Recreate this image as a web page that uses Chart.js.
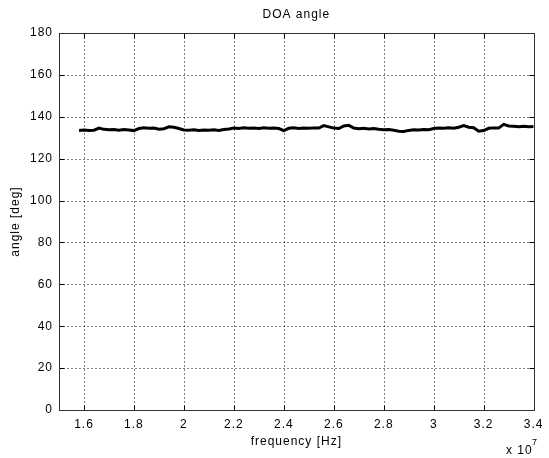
<!DOCTYPE html>
<html lang="en">
<head>
    <meta charset="UTF-8">
    <script src="https://cdn.jsdelivr.net/npm/chart.js"></script>
    <title>DOA angle</title>
    <style>
        body { margin: 0; background: #fff; }
    </style>
</head>
<body>
    <canvas id="doaChart" width="549" height="458"></canvas>

    <script>
        // frequency in units of 1e7 Hz
        const freq = [
            1.58, 1.60, 1.62, 1.64, 1.66, 1.68, 1.70, 1.72, 1.74, 1.76,
            1.78, 1.80, 1.82, 1.84, 1.86, 1.88, 1.90, 1.92, 1.94, 1.96,
            1.98, 2.00, 2.02, 2.04, 2.06, 2.08, 2.10, 2.12, 2.14, 2.16,
            2.18, 2.20, 2.22, 2.24, 2.26, 2.28, 2.30, 2.32, 2.34, 2.36,
            2.38, 2.40, 2.42, 2.44, 2.46, 2.48, 2.50, 2.52, 2.54, 2.56,
            2.58, 2.60, 2.62, 2.64, 2.66, 2.68, 2.70, 2.72, 2.74, 2.76,
            2.78, 2.80, 2.82, 2.84, 2.86, 2.88, 2.90, 2.92, 2.94, 2.96,
            2.98, 3.00, 3.02, 3.04, 3.06, 3.08, 3.10, 3.12, 3.14, 3.16,
            3.18, 3.20, 3.22, 3.24, 3.26, 3.28, 3.30, 3.32, 3.34, 3.36,
            3.38, 3.40
        ];
        // DOA angle in degrees
        const angle = [
            133.5, 133.7, 133.4, 133.6, 134.6, 134.0, 133.8, 133.9, 133.6, 133.9,
            133.7, 133.4, 134.4, 134.8, 134.5, 134.6, 134.1, 134.3, 135.2, 135.0,
            134.4, 133.7, 133.6, 133.8, 133.5, 133.7, 133.6, 133.8, 133.5, 133.9,
            134.2, 134.6, 134.4, 134.7, 134.5, 134.6, 134.4, 134.7, 134.5, 134.6,
            134.4, 133.4, 134.5, 134.7, 134.4, 134.6, 134.5, 134.7, 134.6, 135.8,
            135.2, 134.6, 134.4, 135.6, 135.9, 134.6, 134.3, 134.5, 134.2, 134.4,
            134.0, 133.8, 133.9, 133.6, 133.1, 133.0, 133.5, 133.8, 133.7, 133.9,
            133.8, 134.4, 134.6, 134.5, 134.7, 134.5, 135.0, 135.8, 135.0, 134.8,
            133.1, 133.4, 134.5, 134.7, 134.6, 136.4, 135.6, 135.5, 135.3, 135.5,
            135.2, 135.4
        ];
        const xTicks = [1.6, 1.8, 2.0, 2.2, 2.4, 2.6, 2.8, 3.0, 3.2, 3.4];
        const yTicks = [0, 20, 40, 60, 80, 100, 120, 140, 160, 180];

        const FAMILY = 'Arial, "Liberation Sans", sans-serif';
        const FONT = '12px ' + FAMILY;

        // matlab style box, dotted grid and inward ticks
        const axesBox = {
            id: 'axesBox',
            beforeDraw(chart) {
                chart.ctx.letterSpacing = '1px';
            },
            beforeDatasetsDraw(chart) {
                const { ctx, chartArea: a, scales: { x, y } } = chart;
                const L = Math.round(a.left) + 0.5, R = Math.round(a.right) + 0.5;
                const T = Math.round(a.top) + 0.5, B = Math.round(a.bottom) + 0.5;
                ctx.save();
                ctx.lineWidth = 1;
                ctx.strokeStyle = '#000';
                ctx.setLineDash([1, 3]);
                ctx.beginPath();
                xTicks.forEach(v => {
                    const px = Math.round(x.getPixelForValue(v)) + 0.5;
                    if (px > L + 1 && px < R - 1) { ctx.moveTo(px, B); ctx.lineTo(px, T); }
                });
                yTicks.forEach(v => {
                    const py = Math.round(y.getPixelForValue(v)) + 0.5;
                    if (py > T + 1 && py < B - 1) { ctx.moveTo(L, py); ctx.lineTo(R, py); }
                });
                ctx.stroke();
                ctx.setLineDash([]);
                ctx.beginPath();
                xTicks.forEach(v => {
                    const px = Math.round(x.getPixelForValue(v)) + 0.5;
                    ctx.moveTo(px, B); ctx.lineTo(px, B - 5);
                    ctx.moveTo(px, T); ctx.lineTo(px, T + 5);
                });
                yTicks.forEach(v => {
                    const py = Math.round(y.getPixelForValue(v)) + 0.5;
                    ctx.moveTo(L, py); ctx.lineTo(L + 5, py);
                    ctx.moveTo(R, py); ctx.lineTo(R - 5, py);
                });
                ctx.stroke();
                ctx.strokeStyle = '#333';
                ctx.strokeRect(L, T, R - L, B - T);
                ctx.restore();
            },
            afterDraw(chart) {
                const { ctx, chartArea: a } = chart;
                const cx = (a.left + a.right) / 2;
                ctx.save();
                ctx.letterSpacing = '1px';
                ctx.fillStyle = '#000';
                ctx.font = FONT;
                ctx.textAlign = 'center';
                ctx.textBaseline = 'middle';
                ctx.fillText('DOA angle', cx, 15);
                ctx.fillText('frequency [Hz]', cx, 442);
                ctx.textAlign = 'left';
                ctx.fillText('x 10', 506, 451);
                ctx.font = '9px ' + FAMILY;
                ctx.fillText('7', 532, 443);
                ctx.font = FONT;
                ctx.translate(16, (a.top + a.bottom) / 2);
                ctx.rotate(-Math.PI / 2);
                ctx.textAlign = 'center';
                ctx.fillText('angle [deg]', 0, 0);
                ctx.restore();
            }
        };

        new Chart(document.getElementById('doaChart'), {
            type: 'line',
            data: {
                datasets: [{
                    data: freq.map((f, i) => ({ x: f, y: angle[i] })),
                    borderColor: '#000',
                    borderWidth: 3,
                    pointRadius: 0,
                    tension: 0
                }]
            },
            options: {
                responsive: false,
                animation: false,
                layout: { padding: { top: 33, right: 9, left: 0, bottom: 0 } },
                plugins: { legend: { display: false }, tooltip: { enabled: false } },
                scales: {
                    x: {
                        type: 'linear',
                        min: 1.5,
                        max: 3.4,
                        afterBuildTicks: s => { s.ticks = xTicks.map(v => ({ value: v })); },
                        afterFit: s => { s.height = 48; },
                        grid: { display: false, drawTicks: false },
                        border: { display: false },
                        ticks: {
                            color: '#000',
                            font: { family: FAMILY, size: 12 },
                            padding: 7,
                            maxRotation: 0,
                            autoSkip: false,
                            callback: v => String(+v.toFixed(1))
                        }
                    },
                    y: {
                        min: 0,
                        max: 180,
                        afterBuildTicks: s => { s.ticks = yTicks.map(v => ({ value: v })); },
                        afterFit: s => { s.width = 59; },
                        grid: { display: false, drawTicks: false },
                        border: { display: false },
                        ticks: {
                            color: '#000',
                            font: { family: FAMILY, size: 12 },
                            padding: 6,
                            autoSkip: false
                        }
                    }
                }
            },
            plugins: [axesBox]
        });
    </script>
</body>
</html>
